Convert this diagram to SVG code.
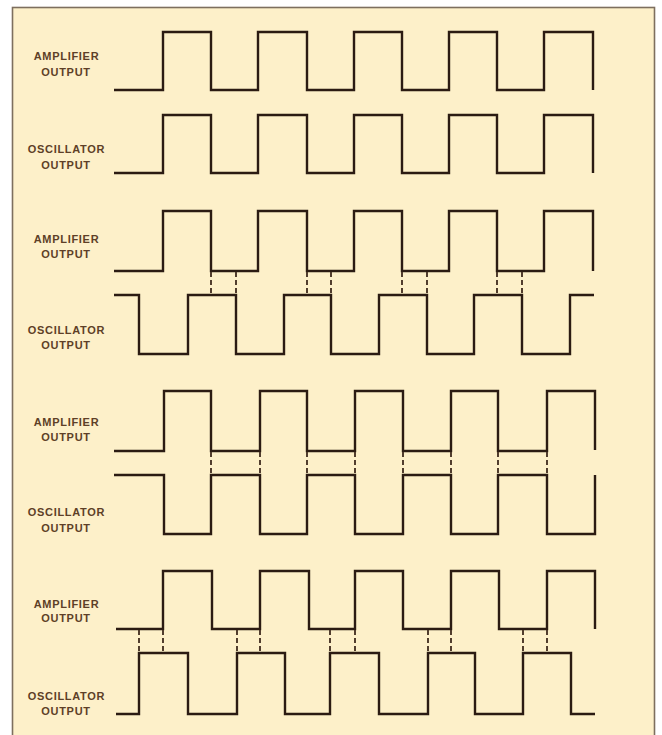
<svg xmlns="http://www.w3.org/2000/svg" width="662" height="735" viewBox="0 0 662 735">
<style>
.bg{fill:#fdf0c9;stroke:#7d6f5e;stroke-width:1.6}
.w{fill:none;stroke:#2b1b12;stroke-width:2.4;stroke-linejoin:miter;stroke-linecap:butt}
.d{fill:none;stroke:#4a3526;stroke-width:1.9;stroke-dasharray:5 3}
.t{font-family:"Liberation Sans",Arial,sans-serif;font-size:11px;font-weight:bold;letter-spacing:0.7px;fill:#5e3f27;text-anchor:middle}
</style>
<rect x="0" y="0" width="662" height="735" fill="#ffffff"/>
<rect class="bg" x="12.5" y="7.5" width="642" height="740"/>

<g id="panel1-amp">
<text class="t" x="66.5" y="60">AMPLIFIER</text>
<text class="t" x="66" y="76">OUTPUT</text>
<path class="w" d="M114,90 H163 V32 H211 V90 H258 V32 H307 V90 H354 V32 H402 V90 H449 V32 H497 V90 H544 V32 H593 V90"/>
</g>
<g id="panel1-osc">
<text class="t" x="66.5" y="153">OSCILLATOR</text>
<text class="t" x="66" y="169">OUTPUT</text>
<path class="w" d="M114,173 H163 V115 H211 V173 H258 V115 H307 V173 H354 V115 H402 V173 H449 V115 H497 V173 H544 V115 H593 V173"/>
</g>

<g id="panel2-amp">
<text class="t" x="66.5" y="243">AMPLIFIER</text>
<text class="t" x="66" y="258">OUTPUT</text>
<path class="w" d="M114,271 H163 V211 H211 V271 H258 V211 H307 V271 H354 V211 H402 V271 H449 V211 H497 V271 H544 V211 H593 V271"/>
</g>
<g id="panel2-osc">
<text class="t" x="66.5" y="334">OSCILLATOR</text>
<text class="t" x="66" y="349">OUTPUT</text>
<path class="w" d="M114,295 H139 V354 H188 V295 H236 V354 H284 V295 H331 V354 H379 V295 H427 V354 H474 V295 H522 V354 H570 V295 H594"/>
</g>

<g id="panel3-amp">
<text class="t" x="66.5" y="426">AMPLIFIER</text>
<text class="t" x="66" y="441">OUTPUT</text>
<path class="w" d="M114,451 H164 V391 H211 V451 H260 V391 H307 V451 H355 V391 H403 V451 H451 V391 H498 V451 H547 V391 H595 V450"/>
</g>
<g id="panel3-osc">
<text class="t" x="66.5" y="516">OSCILLATOR</text>
<text class="t" x="66" y="532">OUTPUT</text>
<path class="w" d="M114,475 H164 V534 H211 V475 H260 V534 H307 V475 H355 V534 H403 V475 H451 V534 H498 V475 H547 V534 H595 V475"/>
</g>

<g id="panel4-amp">
<text class="t" x="66.5" y="608">AMPLIFIER</text>
<text class="t" x="66" y="622">OUTPUT</text>
<path class="w" d="M116,629 H163 V571 H212 V629 H260 V571 H309 V629 H355 V571 H403 V629 H451 V571 H499 V629 H547 V571 H595 V629"/>
</g>
<g id="panel4-osc">
<text class="t" x="66.5" y="700">OSCILLATOR</text>
<text class="t" x="66" y="715">OUTPUT</text>
<path class="w" d="M116,714 H139 V653 H188 V714 H237 V653 H285 V714 H330 V653 H379 V714 H428 V653 H475 V714 H523 V653 H571 V714 H595"/>
</g>

<g id="connectors">
<path class="d" d="M211,272 V294 M236,272 V294 M307,272 V294 M331,272 V294 M402,272 V294 M427,272 V294 M497,272 V294 M522,272 V294"/>
<path class="d" d="M211,452 V474 M260,452 V474 M307,452 V474 M355,452 V474 M403,452 V474 M451,452 V474 M498,452 V474 M547,452 V474"/>
<path class="d" d="M139,630 V652 M163,630 V652 M237,630 V652 M260,630 V652 M330,630 V652 M355,630 V652 M428,630 V652 M451,630 V652 M523,630 V652 M547,630 V652"/>
</g>
</svg>
